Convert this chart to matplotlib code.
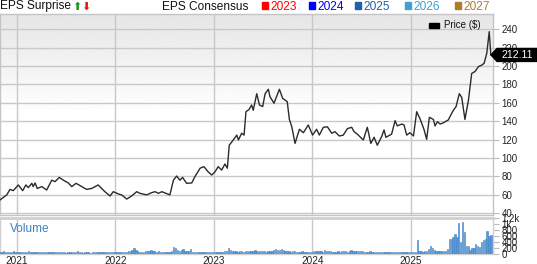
import numpy as np
import pandas as pd
import matplotlib
matplotlib.use('Agg')
import matplotlib.pyplot as plt
from matplotlib.patches import Rectangle, Polygon

plt.rcParams['font.family'] = ['Liberation Sans', 'DejaVu Sans']

# price readings (date, $)
price_dates = [
    '2020-10-30', '2020-11-24', '2020-12-06', '2020-12-18', '2021-01-06', '2021-01-22',
    '2021-02-03', '2021-02-12', '2021-02-25', '2021-03-02', '2021-03-09', '2021-03-17',
    '2021-04-03', '2021-04-21', '2021-05-10', '2021-05-22', '2021-06-07', '2021-06-22',
    '2021-07-10', '2021-07-23', '2021-08-08', '2021-08-29', '2021-09-16', '2021-10-05',
    '2021-10-29', '2021-11-23', '2021-12-12', '2021-12-24', '2022-01-12', '2022-01-24',
    '2022-02-12', '2022-03-02', '2022-03-21', '2022-04-02', '2022-04-27', '2022-05-15',
    '2022-05-28', '2022-06-09', '2022-06-22', '2022-07-22', '2022-08-04', '2022-08-16',
    '2022-08-28', '2022-09-07', '2022-09-22', '2022-10-11', '2022-10-23', '2022-11-11',
    '2022-11-25', '2022-12-11', '2022-12-24', '2023-01-05', '2023-01-17', '2023-01-30',
    '2023-02-11', '2023-02-20', '2023-02-27', '2023-03-14', '2023-03-27', '2023-04-02',
    '2023-04-14', '2023-04-23', '2023-04-30', '2023-05-12', '2023-05-21', '2023-05-27',
    '2023-06-09', '2023-06-19', '2023-07-01', '2023-07-10', '2023-07-22', '2023-07-28',
    '2023-08-12', '2023-09-01', '2023-09-13', '2023-09-30', '2023-10-08', '2023-10-17',
    '2023-10-29', '2023-11-14', '2023-11-29', '2023-12-17', '2024-01-02', '2024-01-17',
    '2024-01-27', '2024-02-11', '2024-02-26', '2024-03-13', '2024-03-25', '2024-04-10',
    '2024-04-25', '2024-05-10', '2024-05-26', '2024-06-04', '2024-06-16', '2024-07-08',
    '2024-07-23', '2024-08-05', '2024-08-17', '2024-08-29', '2024-09-14', '2024-09-23',
    '2024-09-30', '2024-10-21', '2024-11-03', '2024-11-11', '2024-11-28', '2024-12-06',
    '2024-12-16', '2024-12-28', '2025-01-10', '2025-01-22', '2025-02-03', '2025-02-18',
    '2025-02-28', '2025-03-10', '2025-03-25', '2025-03-31', '2025-04-09', '2025-04-19',
    '2025-05-01', '2025-05-19', '2025-06-07', '2025-06-17', '2025-06-29', '2025-07-08',
    '2025-07-20', '2025-08-02', '2025-08-14', '2025-08-26', '2025-09-08', '2025-09-20',
    '2025-09-29', '2025-10-09', '2025-10-18', '2025-10-24',
]
price_values = [
    54.5, 60, 66, 64.6, 70.8, 64.6, 70.8, 68, 72.6, 69, 73, 67,
    69, 65.3, 76, 74.4, 79, 76, 73, 69, 72.6, 69, 66, 67,
    70.8, 63.5, 58.8, 63.5, 61, 60, 55.5, 58.8, 63.5, 61.7, 60, 62.4,
    63.5, 61.7, 63.5, 60, 76, 80.5, 76, 79, 72.6, 73, 80, 89,
    90.7, 85, 81.6, 85, 90.7, 87, 93.6, 89, 114, 119.7, 125, 119.7,
    127, 125, 150.4, 153, 157.7, 152, 170, 157.7, 156, 170, 174.8, 166.7,
    159.6, 174.8, 165, 161.3, 142, 134, 116, 131.3, 127.6, 136, 125, 131.3,
    125, 133.5, 134, 127, 128.7, 124, 125, 132, 133.5, 128.7, 126, 119.7,
    133.5, 116, 122.6, 114, 123.3, 130.6, 122.6, 126, 140.7, 135, 137, 136,
    125, 127.6, 124, 150.4, 143, 131.3, 120.4, 144.3, 142, 135, 139.6, 137,
    138.4, 141.4, 152, 155.9, 170, 166, 142, 163, 192, 194, 199.4, 201,
    203, 214, 237.4, 212.11,
]

# weekly volume (thousands), starting 2020-10-30
volume = [
    40, 50, 90, 45, 40, 55, 60, 70, 45,
    50, 55, 60, 55, 60, 65, 70, 60, 55, 50, 45, 40, 45, 40, 35, 50, 55, 45, 40, 45,
    60, 40, 35, 45, 40, 35, 30, 45, 50, 55, 40, 35, 90, 50, 35, 30, 35, 40, 35, 30,
    35, 40, 45, 50, 35, 40, 45, 50, 55, 40, 35, 40,
    45, 50, 40, 45, 50, 55, 60, 70, 90, 120, 170, 110, 80, 60, 55, 60, 70, 90, 80,
    130, 75, 70, 65, 80, 60, 50, 45, 50, 40, 60, 100, 210, 200, 120, 90, 110, 140,
    100, 80, 90, 140, 60, 45, 50, 40, 45, 60, 50, 40, 45, 55, 60,
    50, 45, 55, 60, 50, 60, 70, 80, 200, 110, 90, 100, 80, 60, 70, 90, 60, 70, 100,
    80, 90, 100, 110, 70, 80, 90, 100, 80, 60, 70, 90, 100, 120, 140, 110, 130, 140,
    120, 100, 80, 70, 60, 70, 80, 60, 50, 60, 70, 60, 55, 60, 65,
    60, 70, 90, 100, 80, 70, 60, 110, 80, 90, 70, 60, 55, 60, 70, 60, 80, 90, 70,
    60, 80, 120, 90, 80, 100, 90, 80, 70, 60, 50, 60, 70, 60, 50, 45, 40, 50, 60,
    55, 50, 45, 50, 40, 45, 50, 40, 60, 55, 50, 45, 50, 40,
    50, 40, 40, 40, 470, 90, 80, 60, 80, 90, 150, 270, 200, 130, 80, 70, 70, 70,
    70, 90, 160, 500, 480, 560, 650, 560, 1020, 400, 1080, 720, 250, 250, 130, 180,
    190, 330, 250, 230, 400, 460, 500, 760, 600, 620,
]
volume_start = '2020-10-30'

years = ['2021', '2022', '2023', '2024', '2025']
price_ticks = [40, 60, 80, 100, 120, 140, 160, 180, 200, 220, 240]
vol_ticks = [0, 200, 400, 600, 800, 1000, 1200]
vol_labels = ['0', '200', '400', '600', '800', '1k', '1.2k']

consensus_years = ['2023', '2024', '2025', '2026', '2027']
consensus_colors = ['#ff0000', '#0000ff', '#1f5fb0', '#3fa0d2', '#b07c2c']

W, H = 537, 264
fig = plt.figure(figsize=(W / 100, H / 100), dpi=100)


def px(x, y):
    return x / W, 1 - y / H


grid_c = '#c8c8c8'
tick_c = '#222222'
xmin = pd.Timestamp('2020-10-30')
xmax = pd.Timestamp('2025-11-01')
year_pos = [pd.Timestamp(y + '-01-01') for y in years]

# price panel
ax = fig.add_axes([0, 1 - 214.5 / H, 493 / W, (214.5 - 14) / H])
grad = np.linspace(0, 1, 256)
grad = 1 - 0.1 * np.clip((grad - 0.5) / 0.5, 0, 1)
ax.imshow(grad[::-1].reshape(-1, 1), cmap='gray', vmin=0, vmax=1, aspect='auto',
          extent=[0, 1, 0, 1], transform=ax.transAxes, zorder=0)
ax.plot(pd.to_datetime(price_dates), price_values, color='#2b2b2b', lw=1.0, zorder=3)
ax.set_xlim(xmin, xmax)
ax.set_ylim(38.7, 256.6)
ax.set_yticks(price_ticks)
ax.set_xticks(year_pos)
ax.set_xticklabels([])
ax.yaxis.tick_right()
ax.tick_params(axis='y', length=4, color='#bbbbbb', labelsize=7, labelcolor=tick_c, pad=2)
ax.tick_params(axis='x', length=0)
ax.grid(True, color=grid_c, lw=1.0, zorder=1)
for s in ax.spines.values():
    s.set_color('#c4c4c4')
    s.set_linewidth(1.0)

# price legend
fig.patches.append(Rectangle(px(429, 27.5), 10 / W, 4.5 / H, color='black',
                             transform=fig.transFigure, figure=fig))
fig.text(*px(444, 25.5), 'Price ($)', fontsize=7, va='center', color='#111111')

# volume panel
axv = fig.add_axes([0, 1 - 253.5 / H, 493 / W, (253.5 - 218) / H])
vol_dates = pd.date_range(volume_start, periods=len(volume), freq='7D')
axv.bar(vol_dates, volume, width=5, color='#5b9bd5', edgecolor='#3d7fc4', lw=0.4, zorder=3)
axv.set_xlim(xmin, xmax)
axv.set_ylim(0, 1200)
axv.set_yticks(vol_ticks)
axv.set_yticklabels(vol_labels)
axv.yaxis.tick_right()
axv.tick_params(axis='y', length=4, color='#bbbbbb', labelsize=7, labelcolor=tick_c, pad=2)
axv.set_xticks(year_pos)
axv.set_xticklabels(years)
axv.tick_params(axis='x', length=0, labelsize=7.2, labelcolor=tick_c, pad=1.5)
axv.grid(True, axis='x', color=grid_c, lw=1.0, zorder=1)
for s in axv.spines.values():
    s.set_color('#d0d0d0')
    s.set_linewidth(1.0)
axv.spines['top'].set_linewidth(2.0)
fig.text(*px(10, 229), 'Volume', fontsize=8.5, va='center', color='#3a80c4')

# header
fig.text(*px(0, 6.5), 'EPS Surprise', fontsize=8.6, va='center', color='#111111')
fig.text(*px(77, 7), '\u2b06', fontsize=8, va='center', ha='center',
         color='#1a9a1a', family=['DejaVu Sans'])
fig.text(*px(86, 7), '\u2b07', fontsize=8, va='center', ha='center',
         color='#ee1111', family=['DejaVu Sans'])
fig.text(*px(162, 6.5), 'EPS Consensus', fontsize=8.6, va='center', color='#111111')
lx = [262, 309, 355, 405, 455]
for x, lab, c in zip(lx, consensus_years, consensus_colors):
    fig.patches.append(Rectangle(px(x, 8.5), 5.5 / W, 6.8 / H, color=c,
                                 transform=fig.transFigure, figure=fig))
    fig.text(*px(x + 8, 6.5), lab, fontsize=8.6, va='center', color=c)

# last price tag
fig.canvas.draw()
last = price_values[-1]
yd = ax.transData.transform((0, last))[1]
y0 = H - yd
tag = Polygon([px(491, y0), px(497, y0 - 6.5), px(537, y0 - 6.5),
               px(537, y0 + 6.5), px(497, y0 + 6.5)], closed=True,
              color='black', transform=fig.transFigure, figure=fig)
fig.patches.append(tag)
fig.text(*px(502, y0), f'{last:.2f}', fontsize=7.6, va='center', color='white')

fig.savefig('out.png', dpi=100)
